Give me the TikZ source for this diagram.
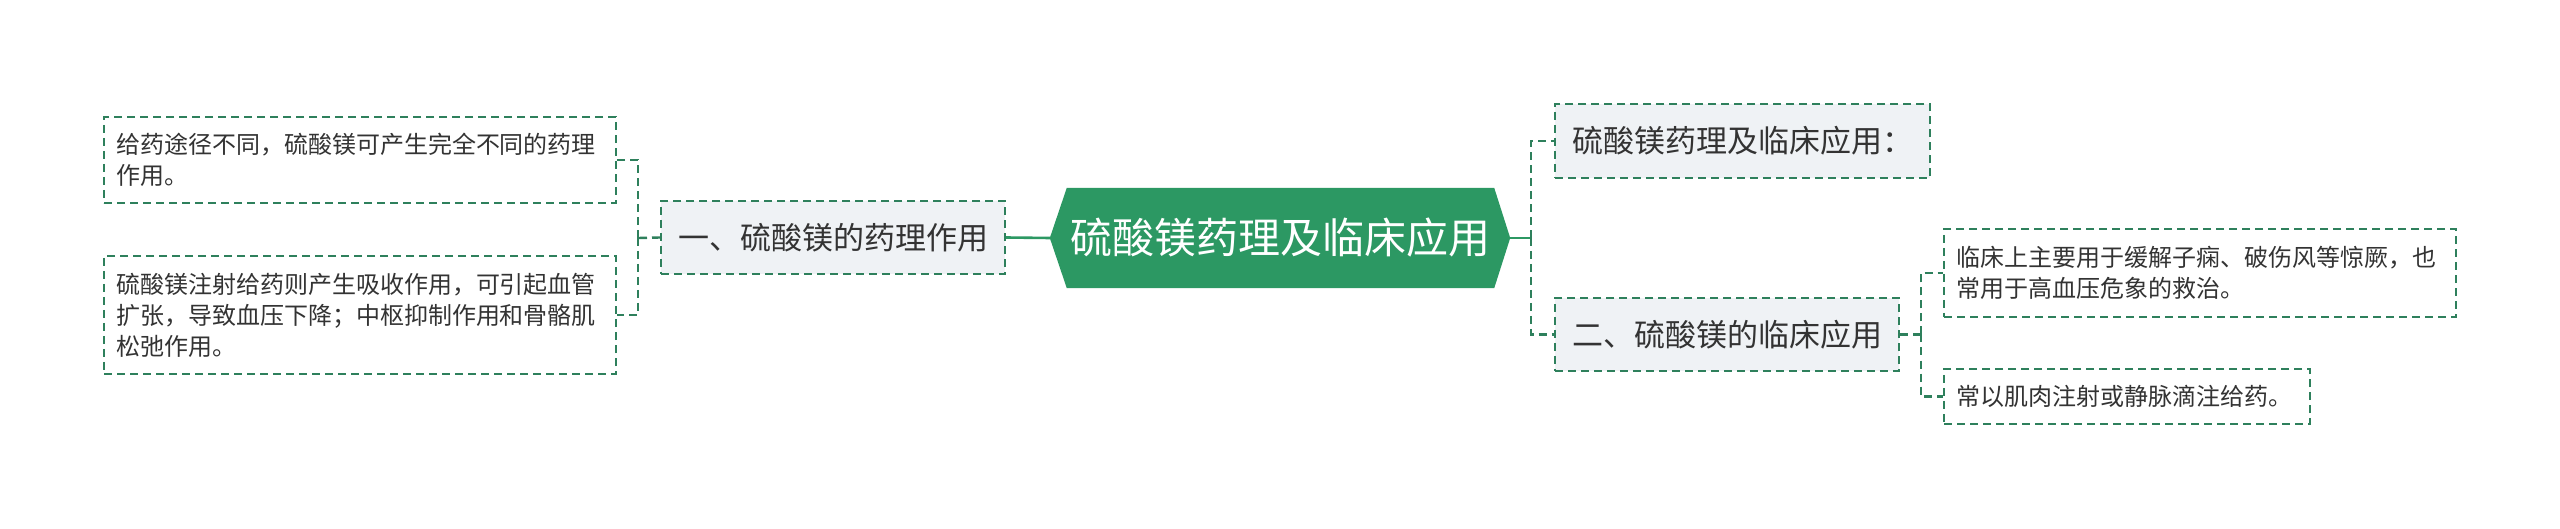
\documentclass[tikz,border=0pt]{standalone}
\usepackage{fontspec}
\setmainfont{Noto Sans CJK SC}
\usetikzlibrary{backgrounds}
\definecolor{hexgreen}{RGB}{44,152,99}
\definecolor{dashgreen}{RGB}{46,128,92}
\definecolor{lightfill}{RGB}{239,242,245}
\definecolor{txt}{RGB}{51,51,51}
\tikzset{
  leafbox/.style={draw=dashgreen, line width=2pt, dash pattern=on 8pt off 5pt, fill=white,
    text=txt, font=\fontsize{24pt}{31pt}\selectfont, align=left, inner xsep=12pt, inner ysep=0pt,
    anchor=center},
  topicbox/.style={draw=dashgreen, line width=2pt, dash pattern=on 8pt off 5pt, fill=lightfill,
    text=txt, font=\fontsize{31pt}{36pt}\selectfont, inner sep=0pt},
  rootnode/.style={text=white, font=\fontsize{42pt}{48pt}\selectfont, inner sep=0pt,
    minimum width=460pt, minimum height=100pt},
  solidconn/.style={draw=hexgreen, line width=2.6pt},
  dashconn/.style={draw=dashgreen, line width=2.4pt, dash pattern=on 8pt off 5pt},
}
\begin{document}
\begin{tikzpicture}[x=1pt,y=-1pt]
\useasboundingbox (0,0) rectangle (2560,529);
% root
\node[rootnode] (root) at (1280,238) {硫酸镁药理及临床应用};
\begin{pgfonlayer}{background}
\fill[hexgreen] (root.west) -- ([xshift=17pt]root.north west) -- ([xshift=-16pt]root.north east)
  -- (root.east) -- ([xshift=-16pt]root.south east) -- ([xshift=17pt]root.south west) -- cycle;
\end{pgfonlayer}
% left topic
\node[topicbox, minimum width=344pt, minimum height=73pt] (L1) at (833,237.5) {一、硫酸镁的药理作用};
% left leaves
\node[leafbox, text width=488pt, minimum height=86pt] (A1) at (360,160) {给药途径不同，硫酸镁可产生完全不同的药理\\作用。};
\node[leafbox, text width=488pt, minimum height=118pt] (A2) at (360,315) {硫酸镁注射给药则产生吸收作用，可引起血管\\扩张，导致血压下降；中枢抑制作用和骨骼肌\\松弛作用。};
% right topics
\node[topicbox, minimum width=375pt, minimum height=74pt] (R1) at (1742.5,141) {硫酸镁药理及临床应用：};
\node[topicbox, minimum width=344pt, minimum height=73pt] (R2) at (1727,334.5) {二、硫酸镁的临床应用};
% right leaves
\node[leafbox, text width=488pt, minimum height=88pt] (B1) at (2200,273) {临床上主要用于缓解子痫、破伤风等惊厥，也\\常用于高血压危象的救治。};
\node[leafbox, text width=342pt, minimum height=55pt] (B2) at (2127,396.5) {常以肌肉注射或静脉滴注给药。};
% connectors
\coordinate (lj) at (638,238);
\coordinate (rj) at (1531,238);
\coordinate (r2j) at (1921,334.5);
\draw[solidconn] (root.west) -- (L1.east);
\draw[dashconn] (L1.west) -- (lj);
\draw[dashconn] (lj) |- (A1.east);
\draw[dashconn] (lj) |- (A2.east);
\draw[solidconn] (root.east) -- (rj);
\draw[dashconn] (rj) |- (R1.west);
\draw[dashconn] (rj) |- (R2.west);
\draw[dashconn] (R2.east) -- (r2j);
\draw[dashconn] (r2j) |- (B1.west);
\draw[dashconn] (r2j) |- (B2.west);
\end{tikzpicture}
\end{document}
